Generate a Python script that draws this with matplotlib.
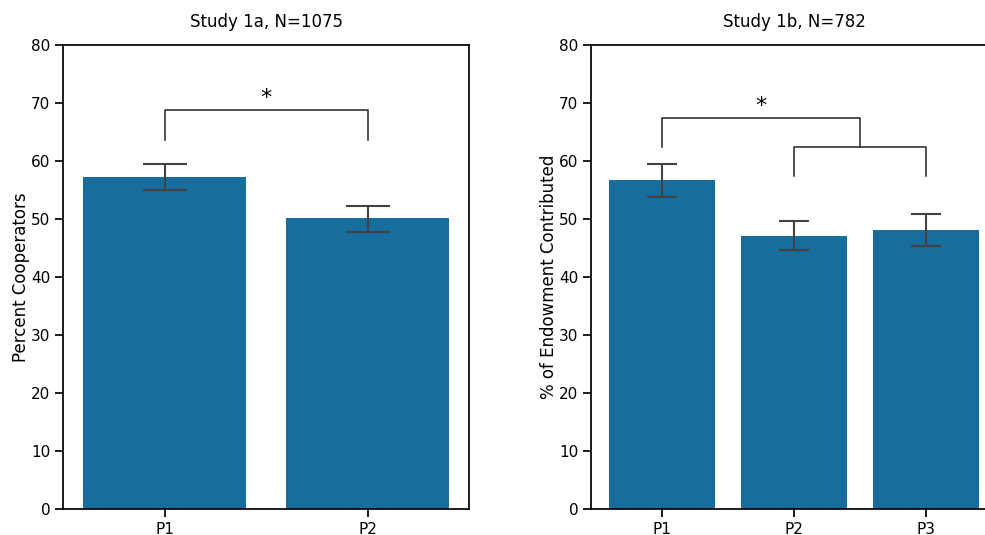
import matplotlib
matplotlib.use("Agg")
import matplotlib.pyplot as plt

# Study 1a: percent cooperators by condition
s1a_labels = ["P1", "P2"]
s1a_means = [57.2, 50.2]
s1a_low = [55.0, 47.8]
s1a_high = [59.5, 52.2]

# Study 1b: % of endowment contributed by condition
s1b_labels = ["P1", "P2", "P3"]
s1b_means = [56.7, 47.1, 48.1]
s1b_low = [53.8, 44.7, 45.3]
s1b_high = [59.5, 49.7, 50.9]

bar_color = "#176d9c"
err_color = "#424242"

plt.rcParams["font.family"] = ["DejaVu Sans"]
plt.rcParams["font.size"] = 11

fig = plt.figure(figsize=(9.85, 5.35), dpi=100)
W, H = 985, 535
ax1 = fig.add_axes([63 / W, 1 - 509 / H, 406 / W, 464 / H])
ax2 = fig.add_axes([591 / W, 1 - 509 / H, 406 / W, 464 / H])


def draw(ax, labels, means, low, high, title, ylabel, capsize):
    x = list(range(len(labels)))
    ax.bar(x, means, width=0.8, color=bar_color, zorder=1)
    yerr = [[m - l for m, l in zip(means, low)], [h - m for m, h in zip(means, high)]]
    ax.errorbar(x, means, yerr=yerr, fmt="none", ecolor=err_color,
                elinewidth=1.5, capsize=capsize, capthick=1.5, zorder=2)
    ax.set_xticks(x)
    ax.set_xticklabels(labels)
    ax.set_ylim(0, 80)
    ax.set_yticks(range(0, 81, 10))
    ax.set_xlim(-0.5, len(labels) - 0.5)
    ax.set_title(title, fontsize=12, pad=13)
    ax.set_ylabel(ylabel, fontsize=12, labelpad=1)
    ax.tick_params(axis="both", length=6, width=1.25, labelsize=11, pad=3)
    for sp in ax.spines.values():
        sp.set_linewidth(1.25)


draw(ax1, s1a_labels, s1a_means, s1a_low, s1a_high,
     "Study 1a, N=1075", "Percent Cooperators", 15.5)
draw(ax2, s1b_labels, s1b_means, s1b_low, s1b_high,
     "Study 1b, N=782", "% of Endowment Contributed", 10.5)
ax2.set_xlim(-0.535, 2.535)

br = dict(color="#222222", lw=1.1)
# Study 1a bracket
ax1.plot([0, 0, 1, 1], [63.6, 68.8, 68.8, 63.6], **br)
ax1.text(0.5, 69.1, "*", ha="center", va="bottom", fontsize=16)

# Study 1b nested brackets
ax2.plot([1, 1, 2, 2], [57.4, 62.4, 62.4, 57.4], **br)
ax2.plot([0, 0, 1.5, 1.5], [62.4, 67.4, 67.4, 62.4], **br)
ax2.text(0.75, 67.7, "*", ha="center", va="bottom", fontsize=16)

fig.savefig("out.png", dpi=100)
